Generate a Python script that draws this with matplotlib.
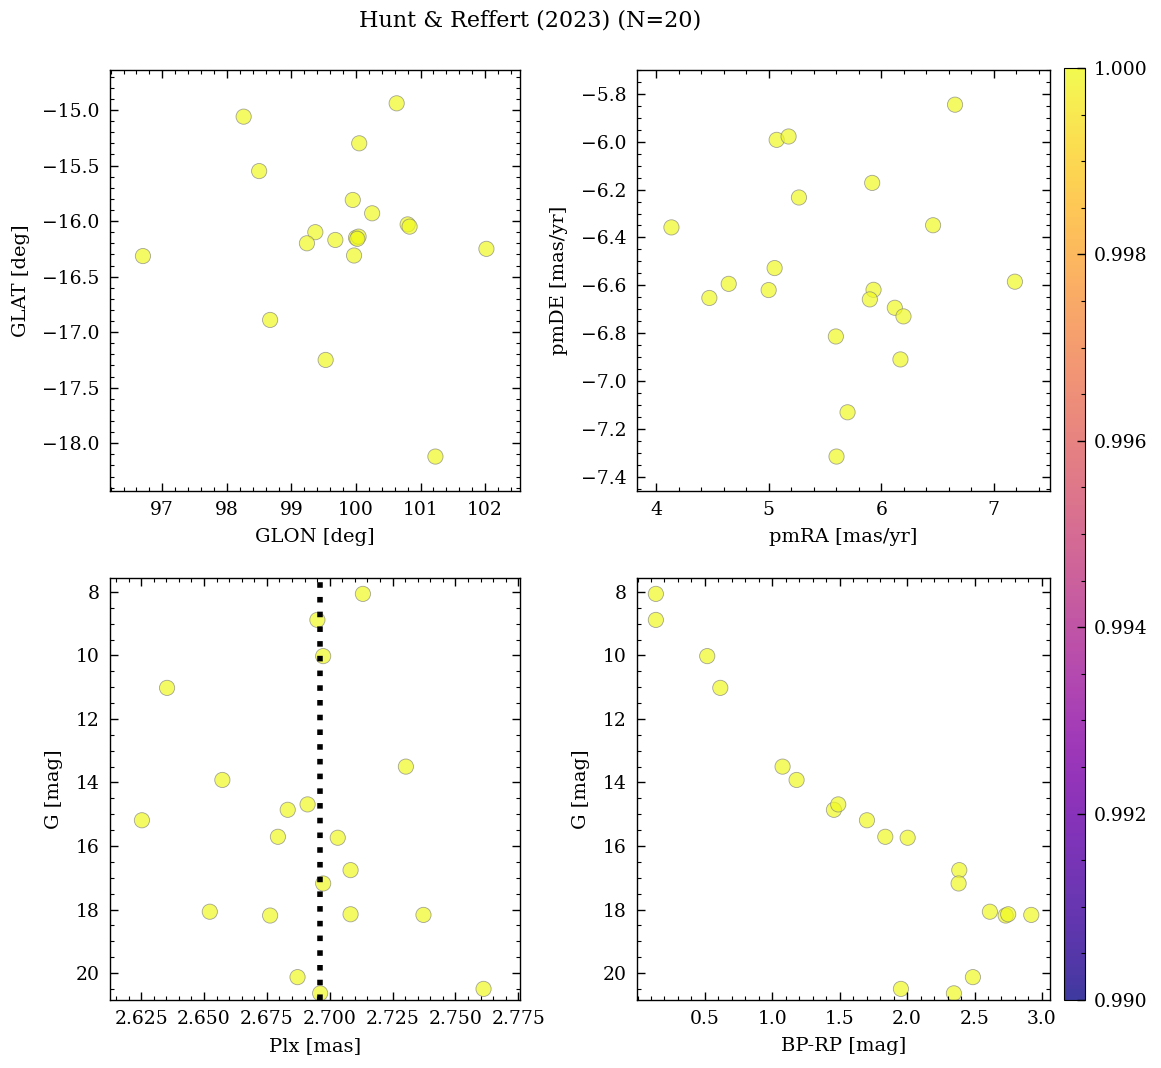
import matplotlib
matplotlib.use("Agg")
import matplotlib.pyplot as plt
import numpy as np
from matplotlib.ticker import AutoMinorLocator, MultipleLocator, FormatStrFormatter

plt.rcParams['font.family'] = ['DejaVu Serif']
plt.rcParams['font.size'] = 14
plt.rcParams['xtick.labelsize'] = 13.5
plt.rcParams['ytick.labelsize'] = 13.5

title = "Hunt & Reffert (2023) (N=20)"

glon = [96.70, 98.26, 100.63, 100.05, 98.50, 99.95, 100.25, 100.80, 100.83, 99.37,
        99.68, 99.24, 100.00, 100.04, 100.02, 99.97, 102.02, 98.67, 99.53, 101.23]
glat = [-16.315, -15.06, -14.94, -15.30, -15.55, -15.81, -15.93, -16.03, -16.05, -16.10,
        -16.17, -16.20, -16.15, -16.14, -16.16, -16.31, -16.25, -16.89, -17.25, -18.12]

pmra = [6.656, 5.071, 5.177, 5.92, 5.269, 4.136, 6.461, 5.053, 7.188, 4.645,
        5.932, 5.00, 4.473, 5.899, 6.121, 6.198, 5.597, 6.171, 5.701, 5.603]
pmde = [-5.845, -5.992, -5.978, -6.172, -6.233, -6.358, -6.349, -6.528, -6.585, -6.594,
        -6.619, -6.62, -6.653, -6.659, -6.694, -6.73, -6.814, -6.91, -7.131, -7.316]

gmag = [8.06, 8.88, 10.02, 11.02, 13.50, 13.92, 14.86, 14.69, 15.19, 15.71,
        15.74, 16.76, 17.18, 18.07, 18.19, 18.15, 18.17, 20.13, 20.50, 20.64]
plx = [2.7132, 2.6951, 2.6974, 2.6353, 2.7303, 2.6573, 2.6833, 2.6912, 2.6253, 2.6794,
       2.7032, 2.7083, 2.6974, 2.6523, 2.6763, 2.7083, 2.7373, 2.6872, 2.7612, 2.6962]
bprp = [0.136, 0.136, 0.517, 0.614, 1.076, 1.180, 1.457, 1.489, 1.702, 1.838,
        2.004, 2.387, 2.382, 2.614, 2.731, 2.750, 2.921, 2.488, 1.954, 2.347]

proba = [1.0] * 20
plx_ref = 2.6962

W, H = 1161, 1068
fig = plt.figure(figsize=(W / 100, H / 100), dpi=100)

def box(l, t, r, b):
    return [l / W, 1 - b / H, (r - l) / W, (b - t) / H]

ax1 = fig.add_axes(box(110, 70, 520, 491))
ax2 = fig.add_axes(box(637, 70, 1050, 491))
ax3 = fig.add_axes(box(110, 578, 520, 1000))
ax4 = fig.add_axes(box(637, 578, 1050, 1000))
cax = fig.add_axes(box(1064, 68, 1085, 1000))

kw = dict(c=proba, cmap='plasma', vmin=0.99, vmax=1.0, s=120, alpha=0.7,
          edgecolors='gray', linewidths=0.6)

sc = ax1.scatter(glon, glat, **kw)
ax2.scatter(pmra, pmde, **kw)
ax3.scatter(plx, gmag, **kw)
ax4.scatter(bprp, gmag, **kw)
ax3.axvline(plx_ref, color='black', linestyle=':', linewidth=4)

ax1.set_xlim(96.19, 102.54)
ax1.set_ylim(-18.43, -14.64)
ax1.xaxis.set_major_locator(MultipleLocator(1))
ax1.yaxis.set_major_locator(MultipleLocator(0.5))
ax1.set_xlabel('GLON [deg]', labelpad=6)
ax1.set_ylabel('GLAT [deg]', labelpad=9)

ax2.set_xlim(3.83, 7.50)
ax2.set_ylim(-7.46, -5.70)
ax2.xaxis.set_major_locator(MultipleLocator(1))
ax2.yaxis.set_major_locator(MultipleLocator(0.2))
ax2.set_xlabel('pmRA [mas/yr]', labelpad=6)
ax2.set_ylabel('pmDE [mas/yr]', labelpad=9)

ax3.set_xlim(2.6126, 2.7757)
ax3.set_ylim(20.85, 7.56)
ax3.xaxis.set_major_locator(MultipleLocator(0.025))
ax3.xaxis.set_major_formatter(FormatStrFormatter('%.3f'))
ax3.yaxis.set_major_locator(MultipleLocator(2))
ax3.set_xlabel('Plx [mas]', labelpad=6)
ax3.set_ylabel('G [mag]', labelpad=9)

ax4.set_xlim(-0.004, 3.06)
ax4.set_ylim(20.85, 7.56)
ax4.xaxis.set_major_locator(MultipleLocator(0.5))
ax4.yaxis.set_major_locator(MultipleLocator(2))
ax4.set_xticks([0.5, 1.0, 1.5, 2.0, 2.5, 3.0])
ax4.set_xlabel('BP-RP [mag]', labelpad=6)
ax4.set_ylabel('G [mag]', labelpad=9)

for ax in (ax1, ax2, ax3, ax4):
    ax.xaxis.set_minor_locator(AutoMinorLocator())
    ax.yaxis.set_minor_locator(AutoMinorLocator())
    ax.tick_params(which='both', direction='in', top=True, right=True, pad=7.5)
    ax.tick_params(which='major', length=5.5, width=1)
    ax.tick_params(which='minor', length=3, width=0.8)
    for sp in ax.spines.values():
        sp.set_linewidth(1.0)

cb = fig.colorbar(sc, cax=cax)
cb.solids.set_alpha(0.8)
cb.set_ticks([0.990, 0.992, 0.994, 0.996, 0.998, 1.000])
cb.ax.yaxis.set_major_formatter(FormatStrFormatter('%.3f'))
cb.ax.yaxis.set_minor_locator(MultipleLocator(0.0005))
cb.ax.tick_params(which='both', direction='in', pad=6)
cb.ax.tick_params(which='major', length=5.5, width=1)
cb.ax.tick_params(which='minor', length=3, width=0.8)

fig.suptitle(title, fontsize=16, x=530 / W, y=0.981, va='center')

fig.savefig('out.png', dpi=100)
